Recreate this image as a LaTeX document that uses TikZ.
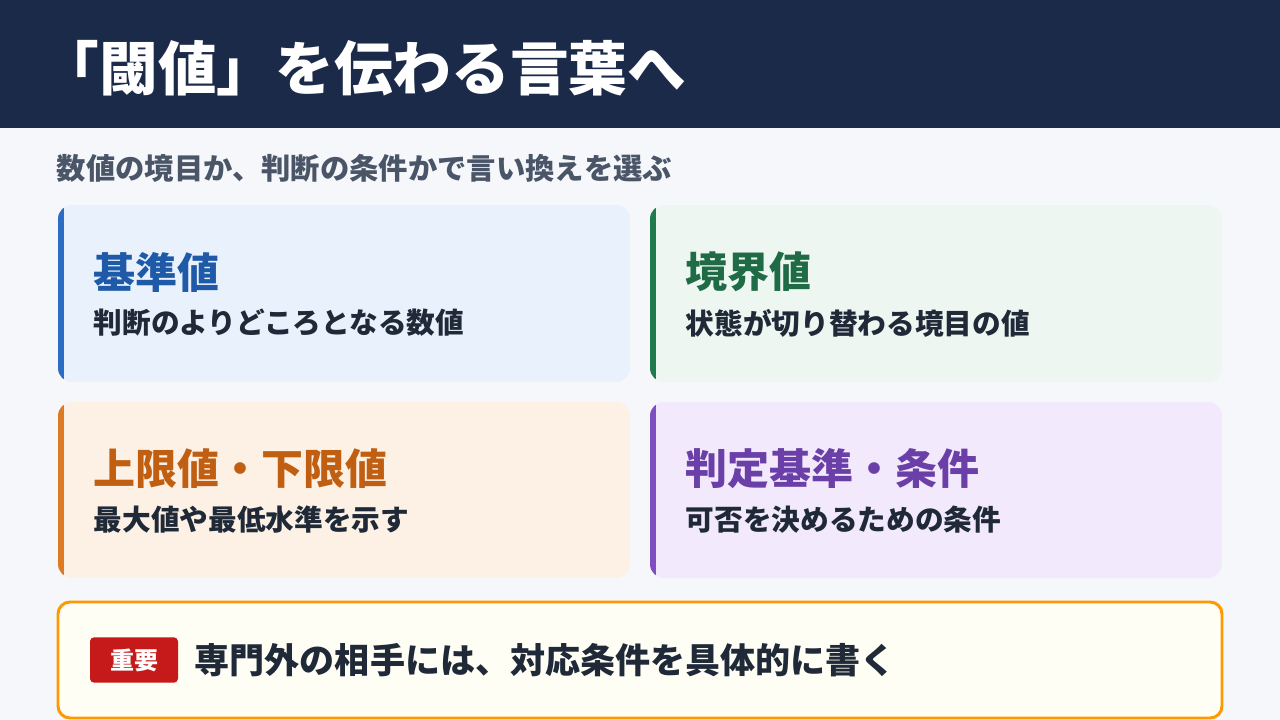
\documentclass[tikz,border=0pt]{standalone}
\usepackage{fontspec}
\setmainfont{Noto Sans CJK JP}
\definecolor{navy}{HTML}{1C2A4A}
\definecolor{bgc}{HTML}{F5F7FB}
\definecolor{subc}{HTML}{4A5568}
\definecolor{txt}{HTML}{1F2937}
\definecolor{bF}{HTML}{E8F1FC}\definecolor{bB}{HTML}{2B6CC4}\definecolor{bT}{HTML}{1E5AA8}
\definecolor{gF}{HTML}{EDF6F0}\definecolor{gB}{HTML}{1F7A4D}\definecolor{gT}{HTML}{1E6B45}
\definecolor{oF}{HTML}{FDF1E5}\definecolor{oB}{HTML}{DD7A22}\definecolor{oT}{HTML}{C05F12}
\definecolor{pF}{HTML}{F2EAFC}\definecolor{pB}{HTML}{7E4FC0}\definecolor{pT}{HTML}{6B3FA8}
\tikzset{
 x=0.75pt,y=-0.75pt,
 ttl/.style={anchor=west,font=\fontsize{31.5}{34}\selectfont\bfseries},
 sub/.style={anchor=west,text=txt,font=\fontsize{21.5}{24}\selectfont\bfseries},
}
\newcommand{\mycard}[9]{%
 \begin{scope}
 \clip[rounded corners=10.5pt] (#1,#2) rectangle (#3,#4);
 \fill[#5] (#1,#2) rectangle (#3,#4);
 \fill[#6] (#1,#2) rectangle (#1+6,#4);
 \end{scope}
 \node[ttl,text=#7] at (#1+31,#2+67) {#8};
 \node[sub] at (#1+31,#2+118) {#9};
}
\begin{document}
\begin{tikzpicture}
\fill[bgc] (0,0) rectangle (1280,720);
\useasboundingbox (0,0) rectangle (1280,720);
\fill[navy] (0,0) rectangle (1280,128);
\node[anchor=west,text=white,font=\fontsize{44}{48}\selectfont\bfseries] (title) at (36,68) {「閾値」を伝わる言葉へ};
\node[anchor=west,text=subc,font=\fontsize{22}{26}\selectfont\bfseries] (subt) at (52,168) {数値の境目か、判断の条件かで言い換えを選ぶ};
\mycard{58}{205}{630}{382}{bF}{bB}{bT}{基準値}{判断のよりどころとなる数値}
\mycard{650}{205}{1222}{382}{gF}{gB}{gT}{境界値}{状態が切り替わる境目の値}
\mycard{58}{402}{630}{578}{oF}{oB}{oT}{上限値・下限値}{最大値や最低水準を示す}
\mycard{650}{402}{1222}{578}{pF}{pB}{pT}{判定基準・条件}{可否を決めるための条件}
\draw[draw=orange!80!yellow,line width=2.2pt,fill=yellow!4!white,rounded corners=9pt] (58,602) rectangle (1222,718);
\node[fill=red!75!black!90,text=white,rounded corners=3pt,minimum width=66pt,minimum height=34pt,font=\fontsize{18}{20}\selectfont\bfseries] (badge) at (134,660) {重要};
\node[anchor=west,text=txt,font=\fontsize{26.3}{30}\selectfont\bfseries] (note) at (190,660) {専門外の相手には、対応条件を具体的に書く};
\end{tikzpicture}
\end{document}
